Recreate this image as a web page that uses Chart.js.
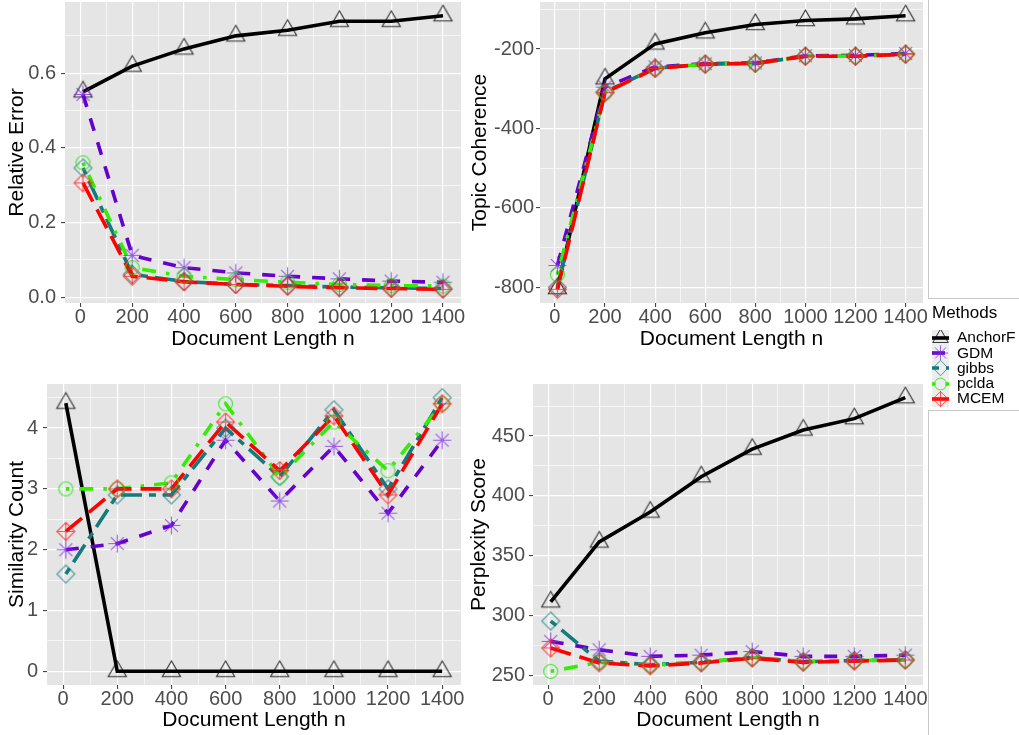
<!DOCTYPE html>
<html><head><meta charset="utf-8">
<script src="https://cdn.jsdelivr.net/npm/chart.js@4"></script>
<style>
body{margin:0;background:#fff;width:1019px;height:735px;position:relative;overflow:hidden;font-family:"Liberation Sans",Arial,sans-serif;}
canvas.panel{position:absolute;}
.bline{position:absolute;background:#C8C8C8;}
.ltitle{position:absolute;left:932px;top:302px;font-size:17px;line-height:22px;color:#000;white-space:nowrap;}
.litem{position:absolute;left:957px;font-size:15.5px;line-height:16px;color:#000;white-space:nowrap;}
canvas.lkey{position:absolute;left:932px;}
</style></head><body>
<canvas id="p1" class="panel" width="470" height="360" style="left:0;top:0"></canvas>
<canvas id="p2" class="panel" width="466" height="360" style="left:463px;top:0"></canvas>
<canvas id="p3" class="panel" width="470" height="375" style="left:0;top:360px"></canvas>
<canvas id="p4" class="panel" width="466" height="375" style="left:463px;top:360px"></canvas>
<div class="bline" style="left:928px;top:0;width:1px;height:298px"></div>
<div class="bline" style="left:928px;top:298px;width:91px;height:1px"></div>
<div class="bline" style="left:928px;top:410px;width:91px;height:1px"></div>
<div class="bline" style="left:928px;top:410px;width:1px;height:325px"></div>
<div class="ltitle">Methods</div>
<div id="legend"></div>
<script>
// ---------------- data ----------------
const docLength = [10, 200, 400, 600, 800, 1000, 1200, 1400];
const xTickLabels = [0, 200, 400, 600, 800, 1000, 1200, 1400];
const methods = ['AnchorF', 'GDM', 'gibbs', 'pclda', 'MCEM'];

const relErrAnchorF = [0.550, 0.619, 0.665, 0.700, 0.715, 0.739, 0.739, 0.754];
const relErrGDM     = [0.543, 0.112, 0.079, 0.065, 0.056, 0.049, 0.043, 0.040];
const relErrGibbs   = [0.346, 0.061, 0.042, 0.034, 0.031, 0.027, 0.025, 0.023];
const relErrPclda   = [0.360, 0.079, 0.056, 0.047, 0.040, 0.034, 0.031, 0.030];
const relErrMCEM    = [0.306, 0.056, 0.041, 0.034, 0.029, 0.025, 0.023, 0.021];
const relErrTicks   = [0, 0.2, 0.4, 0.6];

const cohAnchorF = [-803, -275, -187, -159, -138, -128, -124, -116];
const cohGDM     = [-745, -296, -245, -237, -235, -217, -216, -211];
const cohGibbs   = [-800, -308, -248, -238, -236, -218, -218, -213];
const cohPclda   = [-768, -310, -249, -238, -236, -218, -218, -213];
const cohMCEM    = [-805, -310, -249, -238, -236, -218, -218, -213];
const cohTicks   = [-800, -600, -400, -200];

const simAnchorF = [4.41, 0, 0, 0, 0, 0, 0, 0];
const simGDM     = [2.0, 2.1, 2.4, 3.8, 2.8, 3.7, 2.6, 3.8];
const simGibbs   = [1.6, 2.9, 2.9, 4.0, 3.2, 4.3, 3.0, 4.5];
const simPclda   = [3.0, 3.0, 3.1, 4.4, 3.2, 4.1, 3.3, 4.4];
const simMCEM    = [2.3, 3.0, 3.0, 4.1, 3.3, 4.2, 2.9, 4.4];
const simTicks   = [0, 1, 2, 3, 4];

const perpAnchorF = [311.5, 361.5, 386.5, 416, 439, 455, 464.5, 482];
const perpGDM     = [278.5, 271.5, 266, 267, 270, 266, 266, 267];
const perpGibbs   = [295.5, 262, 259, 261, 265, 261.5, 262.5, 263];
const perpPclda   = [253.5, 261, 258.5, 261, 265, 261.5, 262.5, 263];
const perpMCEM    = [273, 260.5, 258, 260.5, 264.5, 261, 262, 263];
const perpTicks   = [250, 300, 350, 400, 450];

// ---------------- styles ----------------
const FONT = "'Liberation Sans', Arial, sans-serif";
Chart.defaults.font.family = FONT;
const STY = {
  AnchorF: {line: '#000000', dash: [], marker: 'triangle', mcol: 'rgba(0,0,0,0.8)', r: 10.5},
  GDM:     {line: '#6600CC', dash: [13, 12], marker: 'asterisk', mcol: 'rgba(125,40,230,0.75)', r: 9},
  gibbs:   {line: '#137B7B', dash: [7, 7, 21, 7], marker: 'diamond', mcol: 'rgba(25,125,125,0.75)', r: 9},
  pclda:   {line: '#33EE00', dash: [3.5, 10, 14, 10], marker: 'circle', mcol: 'rgba(40,230,20,0.85)', r: 7},
  MCEM:    {line: '#FF0000', dash: [21, 9], marker: 'diamondplus', mcol: 'rgba(255,30,30,0.75)', r: 9}
};
const LW = 3.6;

function drawMarker(g, type, cx, cy, r, col, lw) {
  g.save();
  g.strokeStyle = col; g.lineWidth = lw; g.setLineDash([]);
  g.beginPath();
  if (type === 'triangle') {
    const h = r * Math.sqrt(3) / 2;
    g.moveTo(cx, cy - r); g.lineTo(cx + h, cy + r / 2); g.lineTo(cx - h, cy + r / 2); g.closePath();
  } else if (type === 'asterisk') {
    g.moveTo(cx - r, cy); g.lineTo(cx + r, cy);
    g.moveTo(cx, cy - r); g.lineTo(cx, cy + r);
    const d = r * 0.72;
    g.moveTo(cx - d, cy - d); g.lineTo(cx + d, cy + d);
    g.moveTo(cx - d, cy + d); g.lineTo(cx + d, cy - d);
  } else if (type === 'diamond' || type === 'diamondplus') {
    g.moveTo(cx, cy - r); g.lineTo(cx + r, cy); g.lineTo(cx, cy + r); g.lineTo(cx - r, cy); g.closePath();
    if (type === 'diamondplus') {
      g.moveTo(cx - r, cy); g.lineTo(cx + r, cy);
      g.moveTo(cx, cy - r); g.lineTo(cx, cy + r);
    }
  } else if (type === 'circle') {
    g.arc(cx, cy, r, 0, Math.PI * 2);
  }
  g.stroke();
  g.restore();
}
function makeMarker(name) {
  const s = STY[name];
  const size = Math.ceil(2 * s.r + 4) | 1;
  const c = document.createElement('canvas');
  c.width = size; c.height = size;
  drawMarker(c.getContext('2d'), s.marker, size / 2, size / 2, s.r, s.mcol, 1.1);
  return c;
}
const MARK = {};
methods.forEach(m => MARK[m] = makeMarker(m));

const bgPlugin = {
  id: 'panelbg',
  beforeDraw(chart) {
    const {ctx, chartArea: a} = chart;
    ctx.save(); ctx.fillStyle = '#E5E5E5';
    ctx.fillRect(a.left, a.top, a.right - a.left, a.bottom - a.top);
    ctx.restore();
  }
};

function withMinors(majors, min, max) {
  const step = majors[1] - majors[0];
  const all = majors.slice();
  for (let v = majors[0] - step / 2; v <= majors[majors.length - 1] + step / 2 + 1e-9; v += step) {
    if (v >= min && v <= max) all.push(v);
  }
  return all.sort((a, b) => a - b);
}

function buildPanel(id, seriesByMethod, yMajors, yFmt, yTitle, geo) {
  const all = [].concat(...Object.values(seriesByMethod));
  const lo = Math.min(...all), hi = Math.max(...all), ex = (hi - lo) * 0.05;
  const yMin = lo - ex, yMax = hi + ex;
  const xlo = Math.min(...docLength), xhi = Math.max(...docLength), xex = (xhi - xlo) * 0.05;
  const xMin = xlo - xex, xMax = xhi + xex;
  const xAll = withMinors(xTickLabels, xMin, xMax);
  const yAll = withMinors(yMajors, yMin, yMax);
  const isMaj = (arr, v) => arr.some(a => Math.abs(a - v) < 1e-9);

  const order = ['MCEM', 'pclda', 'gibbs', 'GDM', 'AnchorF'];
  const datasets = [];
  order.forEach(m => {
    datasets.push({
      label: m + ' pts', data: docLength.map((x, i) => ({x, y: seriesByMethod[m][i]})),
      showLine: false, pointStyle: MARK[m], pointRadius: STY[m].r, clip: false
    });
  });
  order.forEach(m => {
    datasets.push({
      label: m, data: docLength.map((x, i) => ({x, y: seriesByMethod[m][i]})),
      borderColor: STY[m].line, borderWidth: LW, borderDash: STY[m].dash, borderCapStyle: 'butt',
      pointRadius: 0, fill: false, tension: 0, clip: false
    });
  });

  const gridOpts = (majors) => ({
    color: '#FFFFFF',
    lineWidth: c => (c.tick && isMaj(majors, c.tick.value)) ? 1.2 : 0.6,
    tickColor: c => (c.tick && isMaj(majors, c.tick.value)) ? '#333333' : 'rgba(0,0,0,0)',
    tickLength: 4, tickWidth: 1, drawTicks: true
  });
  const noPad = s => { s.paddingTop = 0; s.paddingBottom = 0; s.paddingLeft = 0; s.paddingRight = 0; };

  return new Chart(document.getElementById(id), {
    type: 'line',
    data: {datasets},
    plugins: [bgPlugin],
    options: {
      responsive: false, animation: false, devicePixelRatio: 1,
      layout: {autoPadding: false, padding: {left: 0, top: geo.padTop, right: geo.padRight, bottom: 0}},
      plugins: {legend: {display: false}, tooltip: {enabled: false}, title: {display: false}},
      scales: {
        x: {
          type: 'linear', min: xMin, max: xMax,
          afterBuildTicks: s => { s.ticks = xAll.map(v => ({value: v})); },
          afterFit: s => { s.height = geo.xHeight; noPad(s); },
          ticks: {autoSkip: false, maxRotation: 0, minRotation: 0, padding: geo.xTickPad, color: '#4D4D4D',
                  font: {size: geo.tickSize, lineHeight: 1},
                  callback: v => isMaj(xTickLabels, v) ? String(Math.round(v)) : ''},
          grid: gridOpts(xTickLabels),
          border: {display: false},
          title: {display: true, text: 'Document Length n', color: '#000',
                  font: {size: 21, lineHeight: 1.2}, padding: {top: 0, bottom: geo.xTitlePad}}
        },
        y: {
          type: 'linear', min: yMin, max: yMax,
          afterBuildTicks: s => { s.ticks = yAll.map(v => ({value: v})); },
          afterFit: s => { s.width = geo.yWidth; noPad(s); },
          ticks: {autoSkip: false, padding: geo.yTickPad, color: '#4D4D4D',
                  font: {size: geo.tickSize, lineHeight: 1},
                  callback: v => isMaj(yMajors, v) ? yFmt(v) : ''},
          grid: gridOpts(yMajors),
          border: {display: false},
          title: {display: true, text: yTitle, color: '#000',
                  font: {size: 21, lineHeight: 1.2}, padding: {top: geo.yTitlePad, bottom: 0}}
        }
      }
    }
  });
}

buildPanel('p1',
  {AnchorF: relErrAnchorF, GDM: relErrGDM, gibbs: relErrGibbs, pclda: relErrPclda, MCEM: relErrMCEM},
  relErrTicks, v => v.toFixed(1), 'Relative Error',
  {padTop: 2, padRight: 9, yWidth: 65, xHeight: 57, xTitlePad: 8.4, yTitlePad: 4.4, tickSize: 20, xTickPad: 0, yTickPad: 5});
buildPanel('p2',
  {AnchorF: cohAnchorF, GDM: cohGDM, gibbs: cohGibbs, pclda: cohPclda, MCEM: cohMCEM},
  cohTicks, v => String(Math.round(v)), 'Topic Coherence',
  {padTop: 2, padRight: 6, yWidth: 77, xHeight: 57, xTitlePad: 8.4, yTitlePad: 4.4, tickSize: 20, xTickPad: 0, yTickPad: 2});
buildPanel('p3',
  {AnchorF: simAnchorF, GDM: simGDM, gibbs: simGibbs, pclda: simPclda, MCEM: simMCEM},
  simTicks, v => String(Math.round(v)), 'Similarity Count',
  {padTop: 24, padRight: 9, yWidth: 47, xHeight: 50, xTitlePad: 1.7, yTitlePad: 4.4, tickSize: 20, xTickPad: 0, yTickPad: 5});
buildPanel('p4',
  {AnchorF: perpAnchorF, GDM: perpGDM, gibbs: perpGibbs, pclda: perpPclda, MCEM: perpMCEM},
  perpTicks, v => String(Math.round(v)), 'Perplexity Score',
  {padTop: 24, padRight: 6, yWidth: 70, xHeight: 50, xTitlePad: 1.7, yTitlePad: 3.9, tickSize: 20, xTickPad: 0, yTickPad: 4});

// ---------------- legend ----------------
const legend = document.getElementById('legend');
const keyCenters = [337.5, 353, 368.3, 383.5, 398.5];
methods.forEach((m, i) => {
  const cy = keyCenters[i];
  const c = document.createElement('canvas');
  c.className = 'lkey'; c.width = 17; c.height = 16;
  c.style.top = (cy - 8) + 'px';
  const g = c.getContext('2d');
  g.fillStyle = '#EDEDED'; g.fillRect(0, 0, 17, 16);
  g.strokeStyle = STY[m].line; g.lineWidth = LW; g.setLineDash(STY[m].dash); g.lineCap = 'butt';
  g.beginPath(); g.moveTo(0, 8); g.lineTo(17, 8); g.stroke();
  drawMarker(g, STY[m].marker, 8.5, 8, STY[m].r * 0.85, STY[m].mcol, 1);
  legend.appendChild(c);
  const t = document.createElement('div');
  t.className = 'litem'; t.textContent = m; t.style.top = (cy - 8.5) + 'px';
  legend.appendChild(t);
});
</script>
</body></html>
